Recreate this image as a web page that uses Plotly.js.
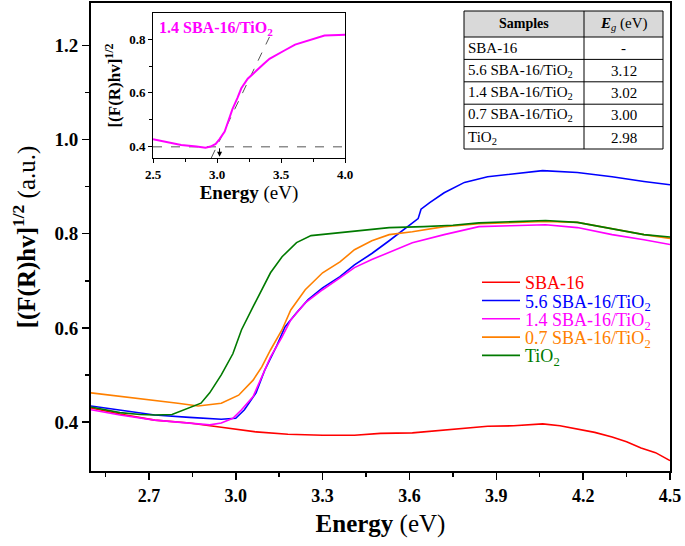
<!DOCTYPE html>
<html>
<head>
<meta charset="utf-8">
<script src="https://cdn.plot.ly/plotly-3.0.1.min.js"></script>
<style>html,body{margin:0;padding:0;background:#fff;}#plot{width:685px;height:546px;}</style>
</head>
<body>
<div id="plot"></div>
<script>
// ---- data ----
const sbaX = [2.5, 2.6, 2.72, 2.84, 2.95, 3.07, 3.18, 3.3, 3.41, 3.5, 3.61, 3.72, 3.87, 3.96, 4.06, 4.12, 4.18, 4.24, 4.3, 4.35, 4.4, 4.45, 4.5];
const sbaY = [0.43, 0.417, 0.404, 0.398, 0.389, 0.379, 0.374, 0.372, 0.372, 0.376, 0.377, 0.383, 0.391, 0.392, 0.396, 0.392, 0.385, 0.378, 0.368, 0.358, 0.345, 0.335, 0.318];

const s56X = [2.5, 2.6, 2.72, 2.84, 2.95, 3.0, 3.03, 3.07, 3.1, 3.14, 3.17, 3.21, 3.25, 3.3, 3.36, 3.41, 3.47, 3.53, 3.58, 3.63, 3.64, 3.67, 3.72, 3.79, 3.87, 3.95, 4.06, 4.18, 4.3, 4.41, 4.5];
const s56Y = [0.434, 0.425, 0.415, 0.41, 0.406, 0.408, 0.426, 0.462, 0.51, 0.56, 0.602, 0.632, 0.66, 0.685, 0.709, 0.734, 0.758, 0.785, 0.808, 0.832, 0.852, 0.866, 0.887, 0.909, 0.921, 0.927, 0.934, 0.93, 0.921, 0.911, 0.904];

const s14X = [2.5, 2.6, 2.72, 2.84, 2.91, 2.95, 2.99, 3.02, 3.06, 3.09, 3.12, 3.16, 3.19, 3.24, 3.3, 3.36, 3.41, 3.47, 3.53, 3.61, 3.72, 3.84, 3.95, 4.07, 4.18, 4.3, 4.41, 4.5];
const s14Y = [0.426, 0.415, 0.404, 0.398, 0.394, 0.398, 0.408, 0.426, 0.454, 0.496, 0.538, 0.581, 0.617, 0.653, 0.681, 0.706, 0.728, 0.745, 0.76, 0.781, 0.798, 0.815, 0.817, 0.819, 0.813, 0.798, 0.787, 0.777];

const s07X = [2.5, 2.6, 2.7, 2.8, 2.87, 2.95, 3.01, 3.06, 3.09, 3.12, 3.16, 3.19, 3.24, 3.3, 3.36, 3.41, 3.47, 3.53, 3.61, 3.72, 3.84, 3.95, 4.07, 4.18, 4.3, 4.41, 4.5];
const s07Y = [0.462, 0.455, 0.447, 0.44, 0.434, 0.44, 0.457, 0.489, 0.517, 0.553, 0.596, 0.638, 0.681, 0.717, 0.74, 0.766, 0.785, 0.798, 0.804, 0.815, 0.821, 0.824, 0.826, 0.824, 0.81, 0.798, 0.79];

const tioX = [2.5, 2.55, 2.6, 2.67, 2.72, 2.78, 2.84, 2.88, 2.91, 2.95, 2.99, 3.02, 3.06, 3.09, 3.12, 3.16, 3.21, 3.26, 3.35, 3.45, 3.53, 3.65, 3.75, 3.84, 3.95, 4.07, 4.18, 4.3, 4.41, 4.5];
const tioY = [0.432, 0.426, 0.42, 0.416, 0.415, 0.416, 0.43, 0.44, 0.462, 0.5, 0.545, 0.596, 0.645, 0.681, 0.717, 0.751, 0.781, 0.796, 0.802, 0.808, 0.813, 0.815, 0.818, 0.823, 0.826, 0.828, 0.824, 0.81, 0.798, 0.793];

const seriesNames = ['SBA-16', '5.6 SBA-16/TiO<sub>2</sub>', '1.4 SBA-16/TiO<sub>2</sub>', '0.7 SBA-16/TiO<sub>2</sub>', 'TiO<sub>2</sub>'];
const seriesColors = ['#ff0000', '#0000ff', '#ff00ff', '#ff8000', '#007a00'];

// inset (1.4 SBA-16/TiO2 tangent construction)
const tangentX = [2.955, 3.41];
const tangentY = [0.355, 0.81];
const baselineX = [2.5, 4.0];
const baselineY = [0.397, 0.397];
const edgeX = 3.02;

// table
const tableHeader = ['<b>Samples</b>', '<b><i>E</i></b><sub><i>g</i></sub> (eV)'];
const tableSamples = ['SBA-16', '5.6 SBA-16/TiO<sub>2</sub>', '1.4 SBA-16/TiO<sub>2</sub>', '0.7 SBA-16/TiO<sub>2</sub>', 'TiO<sub>2</sub>'];
const tableEg = ['-', '3.12', '3.02', '3.00', '2.98'];

// ---- build ----
const serif = 'Liberation Serif, Times New Roman, serif';
const W = 685, H = 546, ML = 91, MR = 15, MT = 3, MB = 75;
const PW = W - ML - MR, PH = H - MT - MB;
const px = v => (v - ML) / PW;
const py = v => (H - MB - v) / PH;

const xs = [sbaX, s56X, s14X, s07X, tioX];
const ys = [sbaY, s56Y, s14Y, s07Y, tioY];
const legendKeys = ['legend', 'legend2', 'legend3', 'legend4', 'legend5'];
const traces = xs.map((x, i) => ({
  type: 'scatter', mode: 'lines', x: x, y: ys[i],
  name: '<span style="color:' + seriesColors[i] + '">' + seriesNames[i] + '</span>',
  line: {color: seriesColors[i], width: 1.6},
  xaxis: 'x', yaxis: 'y', legend: legendKeys[i]
}));

traces.push({type: 'scatter', mode: 'lines', x: baselineX, y: baselineY, xaxis: 'x2', yaxis: 'y2',
  line: {color: '#555', width: 1, dash: 'dash'}, showlegend: false, hoverinfo: 'skip'});
traces.push({type: 'scatter', mode: 'lines', x: tangentX, y: tangentY, xaxis: 'x2', yaxis: 'y2',
  line: {color: '#555', width: 1, dash: 'dash'}, showlegend: false, hoverinfo: 'skip'});
traces.push({type: 'scatter', mode: 'lines', x: s14X, y: s14Y, xaxis: 'x2', yaxis: 'y2',
  line: {color: '#ff00ff', width: 2}, showlegend: false});

// table geometry (pixels)
const tL = 464, tM = 584, tR = 663, tTop = 11, hdrH = 26, rowH = 22.4;
const shapes = [];
const annotations = [];
shapes.push({type: 'rect', xref: 'paper', yref: 'paper', x0: px(tL), x1: px(tR), y0: py(tTop), y1: py(tTop + hdrH),
  fillcolor: '#d9d9d9', line: {width: 0}, layer: 'below'});
const nRows = tableSamples.length;
const tBot = tTop + hdrH + nRows * rowH;
const hLines = [tTop, tTop + hdrH];
for (let i = 1; i <= nRows; i++) hLines.push(tTop + hdrH + i * rowH);
hLines.forEach(yy => shapes.push({type: 'line', xref: 'paper', yref: 'paper', x0: px(tL), x1: px(tR), y0: py(yy), y1: py(yy),
  line: {color: '#000', width: 1}}));
[tL, tM, tR].forEach(xx => shapes.push({type: 'line', xref: 'paper', yref: 'paper', x0: px(xx), x1: px(xx), y0: py(tTop), y1: py(tBot),
  line: {color: '#000', width: 1}}));
annotations.push({xref: 'paper', yref: 'paper', x: px((tL + tM) / 2), y: py(tTop + hdrH / 2), text: tableHeader[0],
  showarrow: false, xanchor: 'center', yanchor: 'middle', font: {family: serif, size: 14, color: '#000'}});
annotations.push({xref: 'paper', yref: 'paper', x: px((tM + tR) / 2), y: py(tTop + hdrH / 2), text: tableHeader[1],
  showarrow: false, xanchor: 'center', yanchor: 'middle', font: {family: serif, size: 15, color: '#000'}});
tableSamples.forEach((s, i) => {
  const yc = tTop + hdrH + (i + 0.5) * rowH;
  annotations.push({xref: 'paper', yref: 'paper', x: px(tL + 2), y: py(yc), text: s, showarrow: false,
    xanchor: 'left', yanchor: 'middle', font: {family: serif, size: 15, color: '#000'}});
  annotations.push({xref: 'paper', yref: 'paper', x: px((tM + tR) / 2), y: py(yc), text: tableEg[i], showarrow: false,
    xanchor: 'center', yanchor: 'middle', font: {family: serif, size: 15, color: '#000'}});
});

annotations.push({xref: 'x2 domain', yref: 'y2 domain', x: 0.02, y: 0.97, xanchor: 'left', yanchor: 'top', showarrow: false,
  text: '<b>1.4 SBA-16/TiO<sub>2</sub></b>', font: {family: serif, size: 16, color: '#ff00ff'}});
annotations.push({xref: 'x2', yref: 'y2', x: edgeX, y: 0.36, axref: 'x2', ayref: 'y2', ax: edgeX, ay: baselineY[0],
  text: '', showarrow: true, arrowhead: 2, arrowsize: 1, arrowwidth: 1, arrowcolor: '#000'});

const legendBase = {xanchor: 'left', yanchor: 'top', bgcolor: 'rgba(0,0,0,0)', borderwidth: 0,
  font: {family: serif, size: 18}, itemwidth: 38};
const layout = {
  width: W, height: H,
  margin: {l: ML, r: MR, t: MT, b: MB},
  paper_bgcolor: '#fff', plot_bgcolor: '#fff',
  font: {family: serif, color: '#000'},
  showlegend: true,
  shapes: shapes,
  annotations: annotations,
  xaxis: {domain: [0, 1], range: [2.5, 4.5], tickvals: [2.7, 3.0, 3.3, 3.6, 3.9, 4.2, 4.5],
    tickformat: '.1f', ticks: 'outside', ticklen: 7, tickwidth: 1.5, tickcolor: '#000',
    minor: {tickvals: [2.55, 2.85, 3.15, 3.45, 3.75, 4.05, 4.35], ticks: 'outside', ticklen: 4, tickwidth: 1.5, tickcolor: '#000'},
    showline: true, linecolor: '#000', linewidth: 2, mirror: true, showgrid: false, zeroline: false,
    tickfont: {family: serif, size: 18, weight: 'bold'},
    title: {text: '<b>Energy</b> (eV)', font: {family: serif, size: 25}, standoff: 10}},
  yaxis: {domain: [0, 1], range: [0.296, 1.29], tickvals: [0.4, 0.6, 0.8, 1.0, 1.2], tickformat: '.1f',
    ticks: 'outside', ticklen: 7, tickwidth: 1.5, tickcolor: '#000',
    minor: {tickvals: [0.5, 0.7, 0.9, 1.1], ticks: 'outside', ticklen: 4, tickwidth: 1.5, tickcolor: '#000'},
    showline: true, linecolor: '#000', linewidth: 2, mirror: true, showgrid: false, zeroline: false,
    tickfont: {family: serif, size: 19, weight: 'bold'},
    title: {text: '<b>[(F(R)hv]<sup>1/2</sup></b> (a.u.)', font: {family: serif, size: 25}, standoff: 12}},
  xaxis2: {domain: [px(153), px(345)], anchor: 'y2', range: [2.5, 4.0], tickvals: [2.5, 3.0, 3.5, 4.0], tickformat: '.1f',
    ticks: 'outside', ticklen: 4, tickwidth: 1, tickcolor: '#000',
    minor: {tickvals: [2.75, 3.25, 3.75], ticks: 'outside', ticklen: 3, tickwidth: 1, tickcolor: '#000'},
    showline: true, linecolor: '#000', linewidth: 1, mirror: true, showgrid: false, zeroline: false,
    tickfont: {family: serif, size: 13, weight: 'bold'},
    title: {text: '<b>Energy</b> (eV)', font: {family: serif, size: 19}, standoff: 0}},
  yaxis2: {domain: [py(158), py(13)], anchor: 'x2', range: [0.355, 0.9], tickvals: [0.4, 0.6, 0.8], tickformat: '.1f',
    ticks: 'outside', ticklen: 4, tickwidth: 1, tickcolor: '#000',
    minor: {tickvals: [0.5, 0.7], ticks: 'outside', ticklen: 3, tickwidth: 1, tickcolor: '#000'},
    showline: true, linecolor: '#000', linewidth: 1, mirror: true, showgrid: false, zeroline: false,
    tickfont: {family: serif, size: 13, weight: 'bold'},
    title: {text: '<b>[(F(R)hv]<sup>1/2</sup></b>', font: {family: serif, size: 17}, standoff: 4}}
};
const legTop = 264, legStep = 18.3;
legendKeys.forEach((k, i) => {
  layout[k] = Object.assign({}, legendBase, {x: px(477), y: py(legTop + i * legStep)});
});

Plotly.newPlot('plot', traces, layout, {displayModeBar: false, staticPlot: true});
</script>
</body>
</html>
